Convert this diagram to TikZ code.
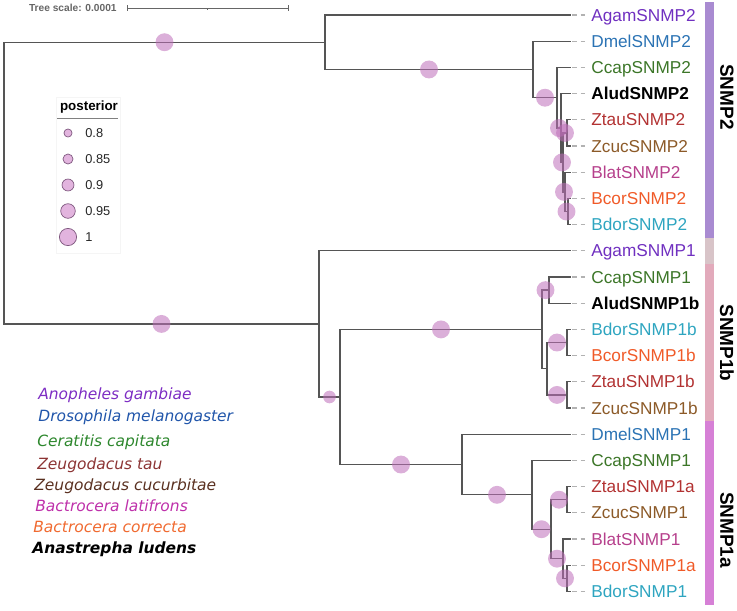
\documentclass[tikz,border=0pt]{standalone}
\usepackage{fontspec}
\setmainfont{Liberation Sans}
\newfontfamily\spfont{DejaVu Sans}
\usetikzlibrary{calc}

\definecolor{agamcol}{RGB}{112,48,192}
\definecolor{dmelcol}{RGB}{43,115,180}
\definecolor{ccapcol}{RGB}{60,118,40}
\definecolor{ztaucol}{RGB}{178,50,50}
\definecolor{zcuccol}{RGB}{140,90,40}
\definecolor{blatcol}{RGB}{182,64,140}
\definecolor{bcorcol}{RGB}{240,90,40}
\definecolor{bdorcol}{RGB}{46,165,192}
\definecolor{branchcol}{RGB}{85,85,85}
\definecolor{postcol}{RGB}{190,110,185}
\definecolor{legdotcol}{RGB}{226,180,222}
\definecolor{bartwo}{RGB}{169,139,209}
\definecolor{barone}{RGB}{216,196,200}
\definecolor{baroneb}{RGB}{226,170,187}
\definecolor{baronea}{RGB}{214,128,214}
\definecolor{agamsp}{RGB}{125,45,195}
\definecolor{dmelsp}{RGB}{32,85,170}
\definecolor{ccapsp}{RGB}{45,135,45}
\definecolor{ztausp}{RGB}{140,52,52}
\definecolor{zcucsp}{RGB}{90,48,32}
\definecolor{blatsp}{RGB}{190,48,170}
\definecolor{bcorsp}{RGB}{240,106,48}

\tikzset{
  branch/.style={draw=branchcol,line width=0.75pt},
  leader/.style={draw=gray!60,line width=0.6pt,dash pattern=on 2.5pt off 2.2pt,shorten <=0.8pt},
  leaf/.style={anchor=west,inner xsep=2.3pt,inner ysep=0pt,text height=7pt,text depth=0pt,
    font=\fontsize{9.8}{11}\selectfont},
  post/.style={fill=postcol,fill opacity=0.55},
  legdot/.style={fill=legdotcol,draw=gray!70!violet,line width=0.4pt},
  clade/.style={rotate=-90,font=\fontsize{10.8}{12}\selectfont\bfseries},
  species/.style={anchor=west,inner sep=0pt,text height=6.3pt,text depth=0pt,
    font=\spfont\itshape\fontsize{8.8}{10}\selectfont},
  agam/.style={text=agamcol}, dmel/.style={text=dmelcol}, ccap/.style={text=ccapcol},
  ztau/.style={text=ztaucol}, zcuc/.style={text=zcuccol}, blat/.style={text=blatcol},
  bcor/.style={text=bcorcol}, bdor/.style={text=bdorcol},
  alud/.style={text=black,font=\fontsize{9.8}{11}\selectfont\bfseries}
}

\begin{document}
\begin{tikzpicture}[x=0.02cm,y=-0.02cm]
\useasboundingbox (0,0) rectangle (737,610);

  \foreach \i/\nm/\st in {0/AgamSNMP2/agam,1/DmelSNMP2/dmel,2/CcapSNMP2/ccap,3/AludSNMP2/alud,
      4/ZtauSNMP2/ztau,5/ZcucSNMP2/zcuc,6/BlatSNMP2/blat,7/BcorSNMP2/bcor,8/BdorSNMP2/bdor,
      9/AgamSNMP1/agam,10/CcapSNMP1/ccap,11/AludSNMP1b/alud,12/BdorSNMP1b/bdor,13/BcorSNMP1b/bcor,
      14/ZtauSNMP1b/ztau,15/ZcucSNMP1b/zcuc,16/DmelSNMP1/dmel,17/CcapSNMP1/ccap,18/ZtauSNMP1a/ztau,
      19/ZcucSNMP1/zcuc,20/BlatSNMP1/blat,21/BcorSNMP1a/bcor,22/BdorSNMP1/bdor}
          {
            \coordinate (t\i) at (571,{15+26.2*\i});
            \node[leaf,\st] (l\i) at (587,{15+26.2*\i}) {\nm};
            \draw[leader] (t\i) -- (l\i);
          }

  \coordinate (root) at (4,183);
  \coordinate (n2) at (325,42.2);
  \coordinate (nA) at (533,69.45);
  \coordinate (nB) at (557,97.7);
  \coordinate (nC) at (561,128);
  \coordinate (nD) at (563,162.4);
  \coordinate (nE) at (567,132.9);
  \coordinate (nF) at (565,191.85);
  \coordinate (nG) at (568,211.5);
  \coordinate (n1) at (319,323.9);
  \coordinate (nH) at (340,397);
  \coordinate (nI) at (542,329.4);
  \coordinate (nK) at (549,290.1);
  \coordinate (nL) at (547,368.7);
  \coordinate (nM) at (567,342.5);
  \coordinate (nN) at (567,394.9);
  \coordinate (nJ) at (462,464.5);
  \coordinate (nO) at (532,494.8);
  \coordinate (nP) at (551,529.2);
  \coordinate (nQ) at (567,499.7);
  \coordinate (nR) at (563,558.65);
  \coordinate (nS) at (567,578.3);

  \foreach \p/\c in {root/n2,root/n1,n2/t0,n2/nA,nA/t1,nA/nB,nB/t2,nB/nC,nC/t3,nC/nD,
      nD/nE,nD/nF,nE/t4,nE/t5,nF/t6,nF/nG,nG/t7,nG/t8,n1/t9,n1/nH,nH/nI,nH/nJ,
      nI/nK,nI/nL,nK/t10,nK/t11,nL/nM,nL/nN,nM/t12,nM/t13,nN/t14,nN/t15,
      nJ/t16,nJ/nO,nO/t17,nO/nP,nP/nQ,nP/nR,nQ/t18,nQ/t19,nR/t20,nR/nS,nS/t21,nS/t22}
          {
            \draw[branch] (\p) |- (\c);
          }

  \foreach \p/\c in {root/n2,root/n1,n2/nA,nA/nB,nB/nC,nC/nD,nD/nE,nD/nF,nF/nG,
      nH/nI,nI/nK,nL/nM,nL/nN,nH/nJ,nJ/nO,nO/nP,nP/nQ,nP/nR,nR/nS}
          {
            \fill[post] ($(\p|-\c)!.5!(\c)$) circle (5.1pt);
          }
  \fill[post] ($(n1|-nH)!.5!(nH)$) circle (3.6pt);

  \fill[bartwo] (705,1.9) rectangle (714,237.7);
  \fill[barone] (705,237.7) rectangle (714,263.9);
  \fill[baroneb] (705,263.9) rectangle (714,421.1);
  \fill[baronea] (705,421.1) rectangle (714,604.5);
  \node[clade] (c2) at (727,97) {SNMP2};
  \node[clade] (c1b) at (727,343) {SNMP1b};
  \node[clade] (c1a) at (727,530) {SNMP1a};

  \node[anchor=east,inner sep=0pt,text=gray!80!black,font=\fontsize{5.8}{7}\selectfont\bfseries]
     (scl) at (117,8) {Tree scale: 0.0001};
  \coordinate (sb1) at (127,8);
  \coordinate (sb2) at (288,8);
  \coordinate (sbm) at (207,8);
  \draw[gray!80!black,line width=0.5pt] (sb1) -- (sb2);
  \draw[gray!80!black,line width=0.5pt] ([yshift=-1.6pt]sb1) -- ([yshift=1.6pt]sb1);
  \draw[gray!80!black,line width=0.5pt] ([yshift=-1.6pt]sb2) -- ([yshift=1.6pt]sb2);
  \draw[gray!80!black,line width=0.5pt] (sbm) -- ([yshift=-1pt]sbm);

  \draw[draw=gray!8,fill=white] (56,97) rectangle (120,253);
  \node[font=\fontsize{7.6}{9}\selectfont\bfseries] (ptitle) at (89,107) {posterior};
  \draw[gray,line width=0.5pt] (57,118) -- (118,118);
  \foreach \v/\r [count=\k] in {0.8/2.3pt,0.85/2.85pt,0.9/3.4pt,0.95/4.15pt,1/4.9pt}
          {
            \filldraw[legdot] (68,{107+26*\k}) circle (\r);
            \node[anchor=west,inner sep=0pt,text height=5.3pt,text depth=0pt,text=black!85,
               font=\fontsize{7.3}{9}\selectfont] (pv\k) at (85,{107+26*\k}) {\v};
          }

  \foreach \y/\x/\c/\t [count=\k] in {394/38/agamsp/Anopheles gambiae,
      416/38/dmelsp/Drosophila melanogaster,441/37/ccapsp/Ceratitis capitata,
      464/37/ztausp/Zeugodacus tau,485/34/zcucsp/Zeugodacus cucurbitae,
      506/35/blatsp/Bactrocera latifrons,527/33/bcorsp/Bactrocera correcta}
          {
            \node[species,text=\c] (sp\k) at (\x,\y) {\t};
          }
  \node[species,text=black,font=\spfont\bfseries\itshape\fontsize{8.8}{10}\selectfont]
     (sp8) at (32,548) {Anastrepha ludens};

\end{tikzpicture}
\end{document}
